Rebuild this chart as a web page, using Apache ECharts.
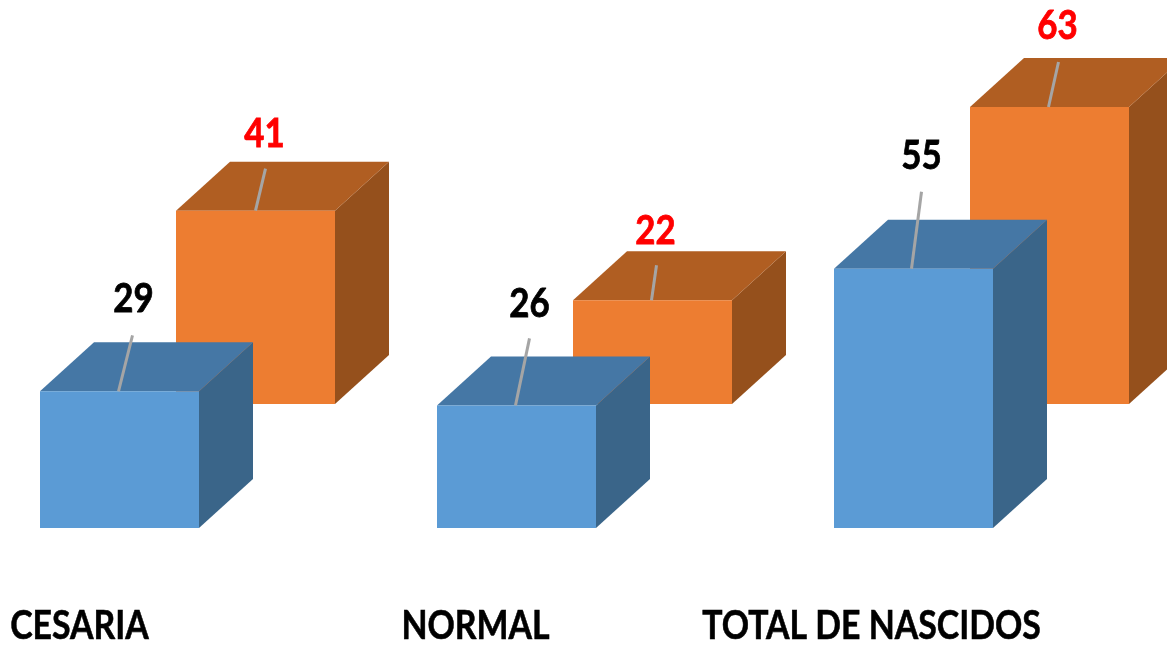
<!DOCTYPE html>
<html><head><meta charset="utf-8">
<style>html,body{margin:0;padding:0;background:#fff}#c{width:1167px;height:647px}</style>
<script src="https://cdn.jsdelivr.net/npm/echarts@6/dist/echarts.min.js"></script>
</head><body><div id="c"></div>
<script>
const categories = ['CESARIA', 'NORMAL', 'TOTAL DE NASCIDOS'];
const blueValues = [29, 26, 55];
const orangeValues = [41, 22, 63];

// Appearance only, relative to each bar's top-front centre:
// leader start dx, leader end dx, leader end dy, label dx, label dy
const blueLeaders = [[-1, 13, -56, 14, -93], [-1, 13, -67, 13, -102], [-2, 8, -77, 8, -113]];
const orangeLeaders = [[0, 10, -42, 9, -77], [-1, 4, -35, 3, -70], [-1, 9, -45, 8, -81]];
const DEPTH_X = 54, DEPTH_Y = -49, BAR_W = 159;
const FONT = 'Lato,"Liberation Sans",sans-serif';
const DIGIT_SCALE = 0.85, CATEGORY_SCALE = 0.825;

function box(offsetX, offsetY, colors, labelColor, leaders) {
  return function (params, api) {
    const i = api.value(0);
    const top = api.coord([i, api.value(1)]);
    const base = api.coord([i, 0]);
    const x0 = top[0] - BAR_W / 2 + offsetX, x1 = x0 + BAR_W;
    const yT = top[1] + offsetY, yB = base[1] + offsetY;
    const cx = (x0 + x1) / 2;
    const L = leaders[i];
    return {
      type: 'group',
      children: [
        { type: 'polygon', shape: { points: [[x1, yT], [x1 + DEPTH_X, yT + DEPTH_Y], [x1 + DEPTH_X, yB + DEPTH_Y], [x1, yB]] }, style: { fill: colors[2] } },
        { type: 'polygon', shape: { points: [[x0, yT], [x0 + DEPTH_X, yT + DEPTH_Y], [x1 + DEPTH_X, yT + DEPTH_Y], [x1, yT]] }, style: { fill: colors[1] } },
        { type: 'rect', shape: { x: x0, y: yT, width: BAR_W, height: yB - yT }, style: { fill: colors[0] } },
        { type: 'line', shape: { x1: cx + L[0], y1: yT, x2: cx + L[1], y2: yT + L[2] }, style: { stroke: '#a5a5a5', lineWidth: 3 } },
        { type: 'text', x: cx + L[3], y: yT + L[4], scaleX: DIGIT_SCALE, style: { text: String(api.value(1)), fill: labelColor, stroke: labelColor, lineWidth: 0.8, font: 'bold 41px ' + FONT, align: 'center', verticalAlign: 'middle' } }
      ]
    };
  };
}

function categoryLabel(params, api) {
  const i = api.value(0);
  const p = api.coord([i, 0]);
  return { type: 'text', x: p[0] - 40 - i, y: p[1] + 98, scaleX: CATEGORY_SCALE,
    style: { text: categories[i], fill: '#000', stroke: '#000', lineWidth: 0.6, font: 'bold 41px ' + FONT, align: 'center', verticalAlign: 'middle' } };
}

const chart = echarts.init(document.getElementById('c'), null, { renderer: 'canvas' });
chart.setOption({
  animation: false,
  backgroundColor: '#ffffff',
  grid: { left: -79, width: 1191, top: 0, height: 528, outerBoundsMode: 'none' },
  xAxis: {
    type: 'category',
    data: categories,
    axisLine: { show: false },
    axisTick: { show: false },
    axisLabel: { show: false }
  },
  yAxis: { type: 'value', min: 0, max: 112, show: false, splitLine: { show: false } },
  series: [
    { type: 'custom', data: orangeValues.map((v, i) => [i, v]), encode: { x: 0, y: 1 }, clip: false, z: 1,
      renderItem: box(136, -124, ['#ed7d31', '#b05e22', '#95501c'], '#ff0000', orangeLeaders) },
    { type: 'custom', data: blueValues.map((v, i) => [i, v]), encode: { x: 0, y: 1 }, clip: false, z: 2,
      renderItem: box(0, 0, ['#5b9bd5', '#4577a5', '#3a6589'], '#000000', blueLeaders) },
    { type: 'custom', data: categories.map((c, i) => [i, 0]), encode: { x: 0, y: 1 }, clip: false, z: 3,
      renderItem: categoryLabel }
  ]
});
</script></body></html>
